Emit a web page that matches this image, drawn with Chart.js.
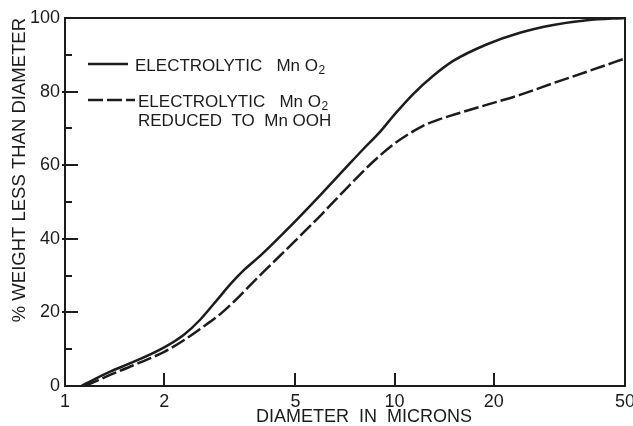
<!DOCTYPE html>
<html><head><meta charset="utf-8">
<script src="https://cdn.jsdelivr.net/npm/chart.js@4/dist/chart.umd.min.js"></script>
<style>html,body{margin:0;padding:0;background:#fff}canvas{display:block}</style>
</head><body>
<canvas id="c" width="633" height="426"></canvas>
<script>
// ---- data ----
const xTickValues = [1, 2, 5, 10, 20, 50];
const xTickLabels = ['1', '2', '5', '10', '20', '50'];
const yTickValues = [0, 10, 20, 30, 40, 50, 60, 70, 80, 90, 100];
const yTickLabels = ['0', '', '20', '', '40', '', '60', '', '80', '', '100'];

const solidDiameter = [1.12, 1.37, 1.6, 2.0, 2.3, 2.57, 2.95, 3.17, 3.5, 3.9, 4.49, 5.0, 6.0, 7.16, 8.0, 9.0, 10.0, 11.4, 13.1, 15.1, 19.0, 24.0, 30.3, 38.3, 50.0];
const solidPercent  = [0, 3.9, 6.4, 10.5, 14.0, 18.0, 24.3, 27.6, 31.6, 35.3, 40.6, 44.8, 52.2, 59.6, 64.2, 68.9, 73.8, 79.4, 84.3, 88.4, 92.8, 96.0, 98.1, 99.4, 100];

const dashedDiameter = [1.15, 1.37, 1.6, 2.0, 2.3, 2.57, 3.0, 4.0, 5.0, 6.0, 7.16, 8.62, 9.9, 11.0, 12.2, 13.6, 15.1, 19.0, 24.0, 30.3, 38.3, 50.0];
const dashedPercent  = [0, 3.0, 5.5, 9.3, 12.5, 15.5, 20.0, 31.0, 39.5, 46.6, 53.8, 61.0, 65.6, 68.4, 70.7, 72.4, 73.7, 76.4, 79.1, 82.3, 85.4, 89.0];

const seriesLabels = ['ELECTROLYTIC   Mn O₂', 'ELECTROLYTIC   Mn O₂\nREDUCED  TO  Mn OOH'];
const xTitle = 'DIAMETER  IN  MICRONS';
const yTitle = '% WEIGHT LESS THAN DIAMETER';

// ---- styling ----
const INK = '#1c1c1c';
const FAM = '"Liberation Sans", Arial, sans-serif';

function toPoints(xs, ys) { return xs.map((x, i) => ({ x: x, y: ys[i] })); }

function drawRich(ctx, text, x, y, size) {
  let cx = x;
  let buf = '';
  const flush = () => {
    if (!buf) return;
    ctx.font = size + 'px ' + FAM;
    ctx.fillText(buf, cx, y);
    cx += ctx.measureText(buf).width;
    buf = '';
  };
  for (const ch of text) {
    if (ch === '₂') {
      flush();
      ctx.font = Math.round(size * 0.72) + 'px ' + FAM;
      ctx.fillText('2', cx + 0.5, y + 5);
      cx += ctx.measureText('2').width + 0.5;
    } else buf += ch;
  }
  flush();
}

const framePlugin = {
  id: 'frame',
  beforeDraw(chart) {
    const { ctx, width, height } = chart;
    ctx.save(); ctx.fillStyle = '#ffffff'; ctx.fillRect(0, 0, width, height); ctx.restore();
  },
  afterDatasetsDraw(chart) {
    const { ctx, chartArea: a, scales: { x, y } } = chart;
    ctx.save();
    ctx.strokeStyle = INK; ctx.lineWidth = 2; ctx.lineCap = 'butt';
    ctx.strokeRect(a.left, a.top, a.right - a.left, a.bottom - a.top);
    y.ticks.forEach(t => {
      const v = t.value; if (v <= y.min || v >= y.max) return;
      const py = Math.round(y.getPixelForValue(v));
      const major = v % 20 === 0;
      ctx.beginPath(); ctx.moveTo(a.left - (major ? 3 : 0), py); ctx.lineTo(a.left + (major ? 13 : 7), py); ctx.stroke();
    });
    x.ticks.forEach(t => {
      const v = t.value; if (v <= x.min || v >= x.max) return;
      const px = Math.round(x.getPixelForValue(v));
      ctx.beginPath(); ctx.moveTo(px, a.bottom); ctx.lineTo(px, a.bottom - 13); ctx.stroke();
    });
    ctx.restore();
  },
  afterDraw(chart) {
    const ctx = chart.ctx;
    const spots = [
      { x0: 88, x1: 128, ly: 64, tx: 135, ty: 66 },
      { x0: 88, x1: 135, ly: 100, tx: 138, ty: 102 }
    ];
    ctx.save();
    chart.data.datasets.forEach((ds, i) => {
      const s = spots[i];
      ctx.strokeStyle = INK; ctx.lineWidth = ds.borderWidth;
      ctx.setLineDash(ds.borderDash || []);
      ctx.beginPath(); ctx.moveTo(s.x0, s.ly); ctx.lineTo(s.x1, s.ly); ctx.stroke();
      ctx.setLineDash([]);
      ctx.fillStyle = INK; ctx.textBaseline = 'middle'; ctx.textAlign = 'left';
      ds.label.split('\n').forEach((line, k) => drawRich(ctx, line, s.tx, s.ty + k * 19, 17));
    });
    ctx.font = '18px ' + FAM; ctx.textAlign = 'center'; ctx.textBaseline = 'middle';
    ctx.fillText(xTitle, 364, 417);
    ctx.restore();
  }
};

new Chart(document.getElementById('c'), {
  type: 'line',
  data: {
    datasets: [
      { label: seriesLabels[0], data: toPoints(solidDiameter, solidPercent), borderColor: INK, borderWidth: 2.5,
        pointRadius: 0, fill: false, cubicInterpolationMode: 'monotone', borderDash: [] },
      { label: seriesLabels[1], data: toPoints(dashedDiameter, dashedPercent), borderColor: INK, borderWidth: 2.5,
        pointRadius: 0, fill: false, cubicInterpolationMode: 'monotone', borderDash: [15, 4] }
    ]
  },
  options: {
    responsive: false, animation: false, devicePixelRatio: 1,
    layout: { padding: { left: 0, right: 8, top: 18, bottom: 0 } },
    plugins: { legend: { display: false }, tooltip: { enabled: false } },
    scales: {
      x: {
        type: 'logarithmic', min: 1, max: 50,
        afterBuildTicks: s => { s.ticks = xTickValues.map(v => ({ value: v })); },
        afterFit: s => { s.height = 40; s.paddingLeft = 0; s.paddingRight = 0; },
        grid: { display: false, drawTicks: false }, border: { display: false },
        ticks: { autoSkip: false, maxRotation: 0, padding: 5, color: INK, font: { family: FAM, size: 18 },
          callback: (v, i) => xTickLabels[i] }
      },
      y: {
        type: 'linear', min: 0, max: 100,
        afterBuildTicks: s => { s.ticks = yTickValues.map(v => ({ value: v })); },
        afterFit: s => { s.width = 65; s.paddingTop = 0; s.paddingBottom = 0; },
        grid: { display: false, drawTicks: false }, border: { display: false },
        ticks: { autoSkip: false, padding: 5, color: INK, font: { family: FAM, size: 18 },
          callback: (v, i) => yTickLabels[i] },
        title: { display: true, text: yTitle, align: 'end', color: INK, font: { family: FAM, size: 18.5 }, padding: { top: 9, bottom: 0 } }
      }
    }
  },
  plugins: [framePlugin]
});
</script>
</body></html>
